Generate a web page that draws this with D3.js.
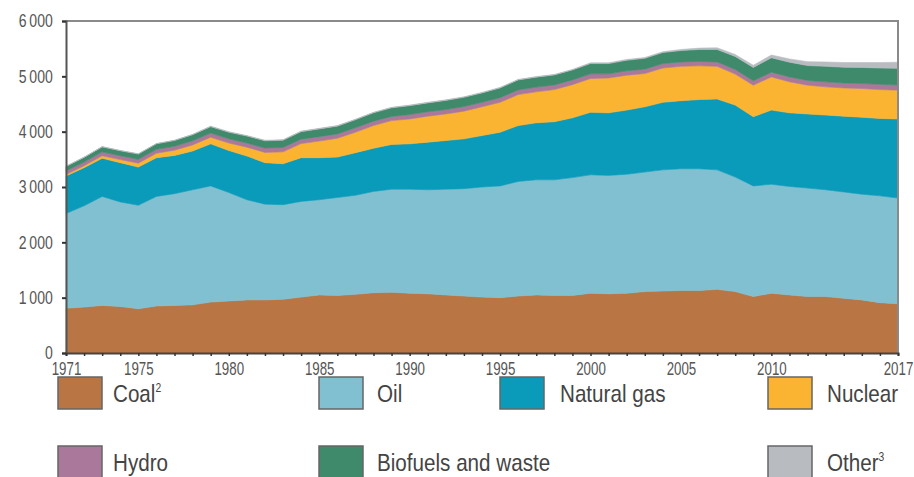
<!DOCTYPE html>
<html><head><meta charset="utf-8">
<script src="https://cdn.jsdelivr.net/npm/d3@7"></script>
<style>
body{margin:0;background:#fff;}
text{font-family:"Liberation Sans",Arial,sans-serif;}
</style></head>
<body><svg id="c" width="914" height="477"></svg>
<script>
const years = d3.range(1971, 2018);
const coal = [810,830,860,840,800,850,860,870,920,940,960,960,970,1010,1050,1040,1060,1090,1100,1080,1070,1050,1030,1010,1000,1030,1050,1040,1040,1080,1070,1080,1110,1120,1130,1130,1150,1110,1020,1080,1050,1020,1020,990,960,910,890];
const oil = [1710,1830,1970,1890,1870,1980,2020,2080,2100,1960,1810,1730,1710,1730,1720,1770,1790,1830,1860,1880,1880,1910,1940,1990,2020,2070,2080,2090,2130,2140,2140,2150,2160,2190,2200,2200,2160,2070,2000,1970,1960,1960,1930,1920,1910,1930,1910];
const gas = [680,690,690,710,690,700,690,700,760,760,790,750,740,790,760,730,770,780,810,820,860,880,900,930,970,1010,1030,1050,1080,1130,1130,1160,1180,1220,1230,1250,1280,1300,1250,1340,1330,1340,1350,1370,1390,1400,1430];
const nuclear = [25,35,45,55,70,80,95,110,120,135,160,185,215,255,300,340,370,410,430,450,470,480,500,520,540,560,560,580,600,610,630,630,600,620,620,610,590,560,570,600,560,520,510,510,520,520,520];
const hydro = [65,65,70,70,70,70,70,75,75,75,75,80,80,80,80,80,80,80,75,80,80,80,85,80,85,85,85,85,85,85,75,80,80,80,80,80,80,85,80,85,90,85,90,90,90,95,95];
const biofuels = [80,85,90,90,95,100,105,110,115,120,125,130,130,135,140,140,145,150,155,160,160,165,165,170,175,180,180,180,180,185,185,190,195,200,205,215,225,235,240,260,265,270,280,285,290,295,300];
const other = [5,5,5,5,5,5,5,5,10,10,10,10,10,10,10,10,10,10,10,10,10,10,10,10,10,10,10,10,10,15,15,15,15,15,20,25,30,35,40,50,60,70,80,85,90,100,110];
const seriesNames = ["Coal","Oil","Natural gas","Nuclear","Hydro","Biofuels and waste","Other"];
const seriesData = [coal, oil, gas, nuclear, hydro, biofuels, other];
const colors = ["#b97644","#81c0d0","#0b9bba","#fbb431","#a9789a","#3e8a6b","#b8bcc1"];
const yTicks = [0,1000,2000,3000,4000,5000,6000];
const xLabelYears = [1971,1975,1980,1985,1990,1995,2000,2005,2010,2017];

const rows = years.map((y,i)=>{const r={year:y}; seriesNames.forEach((n,k)=>r[n]=seriesData[k][i]); return r;});
const svg = d3.select("#c");
const L=66,R=898,T=21,B=353;
const x = d3.scaleLinear().domain([1971,2017]).range([L,R]);
const y = d3.scaleLinear().domain([0,6000]).range([B,T]);
const stack = d3.stack().keys(seriesNames)(rows);
const area = d3.area().x(d=>x(d.data.year)).y0(d=>y(d[0])).y1(d=>y(d[1]));
svg.append("g").selectAll("path").data(stack).join("path")
  .attr("d",area).attr("fill",(d,i)=>colors[i]).attr("stroke",(d,i)=>colors[i]).attr("stroke-width",0.6);

// frame top/right
svg.append("path").attr("d",`M${L},${T}H${R}V${B}`).attr("fill","none").attr("stroke","#8a8a8a").attr("stroke-width",2);

// y axis
const ya = svg.append("g").attr("transform",`translate(${L},0)`)
  .call(d3.axisLeft(y).tickValues(yTicks).tickSize(4).tickPadding(9)
    .tickFormat(v=>d3.format(",")(v).replace(",","\u2009")));
ya.select(".domain").attr("stroke","#555").attr("stroke-width",2);
ya.selectAll(".tick line").attr("stroke","#333").attr("stroke-width",2);
ya.selectAll("text").attr("font-size",18).attr("fill","#555").attr("x",-17)
  .attr("transform","scale(0.78,1)");

// x axis
const xa = svg.append("g").attr("transform",`translate(0,${B})`)
  .call(d3.axisBottom(x).tickValues(years).tickSize(3).tickPadding(6)
    .tickFormat(v=>xLabelYears.includes(v)?String(v):""));
xa.select(".domain").attr("stroke","#444").attr("stroke-width",2);
xa.selectAll(".tick line").attr("stroke","#333").attr("stroke-width",1.5);
xa.selectAll("text").attr("font-size",18).attr("fill","#555").attr("transform","scale(0.74,1)");

// legend
const legend = [
  {i:0,x:58,y:377,tx:113,label:"Coal",sup:"2"},
  {i:1,x:319,y:377,tx:377,label:"Oil"},
  {i:2,x:500,y:377,tx:560,label:"Natural gas"},
  {i:3,x:768,y:377,tx:827,label:"Nuclear"},
  {i:4,x:58,y:446,tx:113,label:"Hydro"},
  {i:5,x:319,y:446,tx:377,label:"Biofuels and waste"},
  {i:6,x:768,y:446,tx:827,label:"Other",sup:"3"}
];
const lg = svg.append("g");
legend.forEach(d=>{
  lg.append("rect").attr("x",d.x).attr("y",d.y).attr("width",44).attr("height",32)
    .attr("fill",colors[d.i]).attr("stroke","#666").attr("stroke-width",1.5);
  const t = lg.append("text").attr("transform",`translate(${d.tx},${d.y+25}) scale(0.86,1)`)
    .attr("font-size",24).attr("fill","#444");
  t.append("tspan").text(d.label);
  if(d.sup) t.append("tspan").attr("font-size",12).attr("dy",-10).text(d.sup);
});
</script></body></html>
